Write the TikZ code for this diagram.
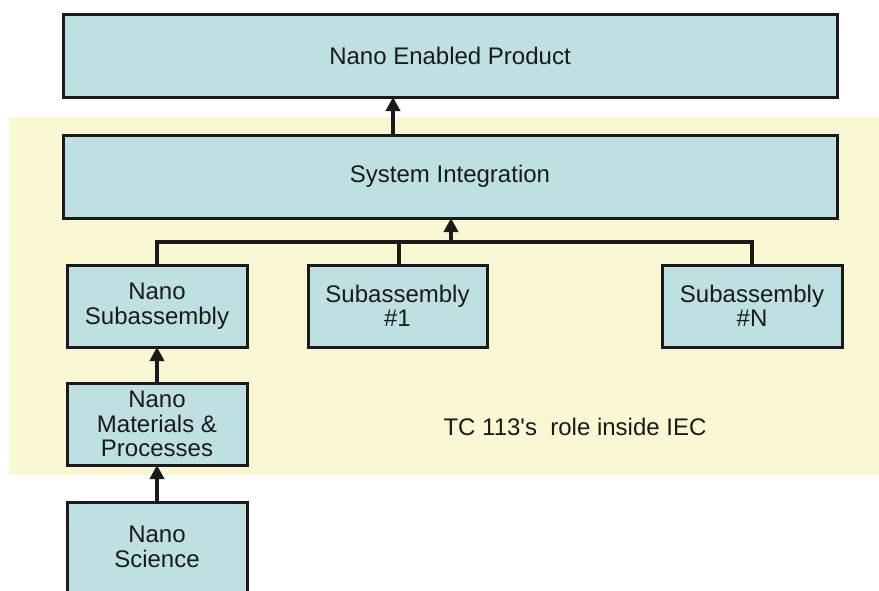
\documentclass[tikz,border=0pt]{standalone}
\usepackage{fontspec}
\setmainfont{Liberation Sans}[Ligatures=TeXOff]
\usetikzlibrary{calc,arrows.meta,positioning}
\definecolor{boxblue}{RGB}{190,224,227}
\definecolor{roleyellow}{RGB}{250,248,210}
\definecolor{inkline}{RGB}{26,26,26}

\begin{document}
\begin{tikzpicture}[x=1pt, y=-1pt, node distance=37pt,
    block/.style={draw=inkline, line width=3pt, fill=boxblue, align=center,
        font=\fontsize{24}{24.5}\selectfont, text=inkline, inner sep=0pt, outer sep=0pt},
    wide/.style={block, minimum width=774pt, minimum height=83pt},
    small/.style={block, minimum width=180pt, minimum height=82pt},
    link/.style={draw=inkline, line width=3.5pt},
    flow/.style={link, -{Triangle[length=14pt, width=14pt]}}]
                \clip (0,0) rectangle (879,590);
                \useasboundingbox (0,0) rectangle (879,590);

                % Role area
                \fill[roleyellow] (9,117) rectangle (879,475);
                \node (role) at (575,427) [font=\fontsize{24}{24.5}\selectfont, text=inkline] {TC 113's\ \ role inside IEC};

                % Product and integration
                \node (product) at (450,55.5) [wide] {Nano Enabled Product};
                \node (sysint) [below=38pt of product, wide] {System Integration};

                % Subassemblies
                \node (nanosub) at (157,306) [small] {Nano\\Subassembly};
                \node (sub1) at (397.5,306) [small, minimum width=179pt] {Subassembly\\\#1};
                \node (subN) at (752,306) [small] {Subassembly\\\#N};

                % Materials and science
                \node (nanomat) [below=36pt of nanosub, small] {Nano\\Materials \&\\Processes};
                \node (nanosci) [below=of nanomat, small, minimum height=90pt] {Nano\\Science};

                % Connections
                \coordinate (bar) at (451,242);
                \draw[flow] ($(sysint.north)+(-57,0)$) -- ($(product.south)+(-57,0)$);
                \draw[link] (nanosub.north) |- (bar) -| (subN.north);
                \draw[link] (sub1.north -| 399,0) -- (399,242);
                \draw[flow] (bar) -- (bar |- sysint.south);
                \draw[flow] (nanomat) -- (nanosub);
                \draw[flow] (nanosci) -- (nanomat);
            \end{tikzpicture}
\end{document}
